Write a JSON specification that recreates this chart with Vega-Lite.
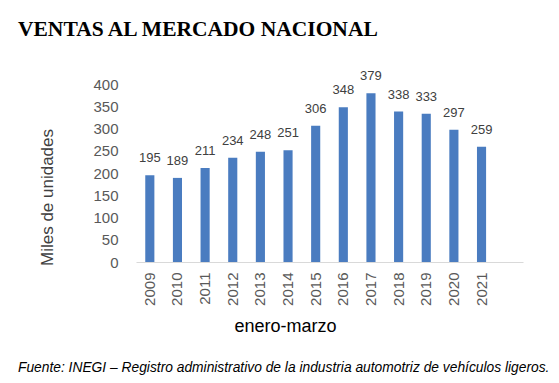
{
  "$schema": "https://vega.github.io/schema/vega-lite/v6.json",
  "autosize": {"type": "pad"},
  "padding": {"left": 18, "top": 18, "right": 5, "bottom": 5},
  "background": "white",
  "bounds": "flush",
  "title": {
    "text": "VENTAS AL MERCADO NACIONAL",
    "anchor": "start",
    "frame": "group",
    "dx": -118,
    "offset": 30,
    "font": "Liberation Serif",
    "fontSize": 21.5,
    "fontWeight": "bold",
    "color": "#000000"
  },
  "config": {"view": {"stroke": null}},
  "vconcat": [
    {
      "width": 387,
      "height": 178,
      "title": {
        "text": "Fuente: INEGI – Registro administrativo de la industria automotriz de vehículos ligeros.",
        "orient": "bottom",
        "anchor": "start",
        "frame": "group",
        "dx": -118,
        "offset": 26,
        "font": "Liberation Sans",
        "fontSize": 13.8,
        "fontStyle": "italic",
        "fontWeight": "normal",
        "color": "#000000"
      },
      "data": {
        "values": [
          {"year": "2009", "value": 195},
          {"year": "2010", "value": 189},
          {"year": "2011", "value": 211},
          {"year": "2012", "value": 234},
          {"year": "2013", "value": 248},
          {"year": "2014", "value": 251},
          {"year": "2015", "value": 306},
          {"year": "2016", "value": 348},
          {"year": "2017", "value": 379},
          {"year": "2018", "value": 338},
          {"year": "2019", "value": 333},
          {"year": "2020", "value": 297},
          {"year": "2021", "value": 259}
        ]
      },
      "encoding": {
        "x": {
          "field": "year",
          "type": "nominal",
          "sort": null,
          "scale": {
            "domain": ["2009","2010","2011","2012","2013","2014","2015","2016","2017","2018","2019","2020","2021","2022"],
            "paddingInner": 0.67
          },
          "axis": {
            "title": "enero-marzo",
            "titleFont": "Liberation Sans",
            "titleFontSize": 18,
            "titleFontWeight": "normal",
            "titleColor": "#000000",
            "titleAnchor": "start",
            "titleAlign": "center",
            "titleX": 149,
            "titlePadding": 12,
            "labelAngle": -90,
            "labelFont": "Liberation Sans",
            "labelFontSize": 15,
            "labelColor": "#595959",
            "labelPadding": 10,
            "labelExpr": "datum.value == '2022' ? '' : datum.label",
            "ticks": false,
            "domainColor": "#d9d9d9",
            "domainWidth": 1
          }
        },
        "y": {
          "field": "value",
          "type": "quantitative",
          "scale": {"domain": [0, 400]},
          "axis": {
            "title": "Miles de unidades",
            "titleFont": "Liberation Sans",
            "titleFontSize": 17,
            "titleFontWeight": "normal",
            "titleColor": "#404040",
            "titleAnchor": "start",
            "titleAlign": "center",
            "titleY": 113,
            "titlePadding": 36,
            "values": [0, 50, 100, 150, 200, 250, 300, 350, 400],
            "labelFont": "Liberation Sans",
            "labelFontSize": 15,
            "labelColor": "#595959",
            "labelPadding": 18,
            "ticks": false,
            "domain": false,
            "grid": false
          }
        }
      },
      "layer": [
        {"mark": {"type": "bar", "color": "#4A7CC0"}},
        {
          "mark": {
            "type": "text",
            "baseline": "bottom",
            "dy": -10,
            "font": "Liberation Sans",
            "fontSize": 13,
            "color": "#404040"
          },
          "encoding": {"text": {"field": "value", "type": "quantitative"}}
        }
      ]
    }
  ]
}
